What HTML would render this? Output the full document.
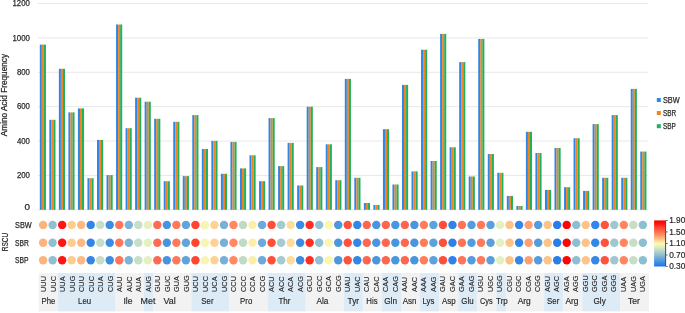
<!DOCTYPE html><html><head><meta charset="utf-8"><style>html,body{margin:0;padding:0;background:#fff;width:685px;height:313px;overflow:hidden}svg{display:block;will-change:transform}</style></head><body>
<svg width="685" height="313" viewBox="0 0 685 313" style="font-family:'Liberation Sans',sans-serif">
<rect x="38" y="209.30" width="610" height="1" fill="#e8e8e8"/>
<rect x="38" y="174.92" width="610" height="1" fill="#e8e8e8"/>
<rect x="38" y="140.53" width="610" height="1" fill="#e8e8e8"/>
<rect x="38" y="106.15" width="610" height="1" fill="#e8e8e8"/>
<rect x="38" y="71.77" width="610" height="1" fill="#e8e8e8"/>
<rect x="38" y="37.38" width="610" height="1" fill="#e8e8e8"/>
<rect x="38" y="3.00" width="610" height="1" fill="#e8e8e8"/>
<text x="29.9" y="209.70" font-size="8.7" fill="#2a2a2a" stroke="#2a2a2a" stroke-width="0.25" text-anchor="end" textLength="5.5" lengthAdjust="spacingAndGlyphs">0</text>
<text x="29.9" y="178.12" font-size="8.7" fill="#2a2a2a" stroke="#2a2a2a" stroke-width="0.25" text-anchor="end" textLength="13.0" lengthAdjust="spacingAndGlyphs">200</text>
<text x="29.9" y="143.73" font-size="8.7" fill="#2a2a2a" stroke="#2a2a2a" stroke-width="0.25" text-anchor="end" textLength="13.0" lengthAdjust="spacingAndGlyphs">400</text>
<text x="29.9" y="109.35" font-size="8.7" fill="#2a2a2a" stroke="#2a2a2a" stroke-width="0.25" text-anchor="end" textLength="13.0" lengthAdjust="spacingAndGlyphs">600</text>
<text x="29.9" y="74.97" font-size="8.7" fill="#2a2a2a" stroke="#2a2a2a" stroke-width="0.25" text-anchor="end" textLength="13.0" lengthAdjust="spacingAndGlyphs">800</text>
<text x="29.9" y="40.58" font-size="8.7" fill="#2a2a2a" stroke="#2a2a2a" stroke-width="0.25" text-anchor="end" textLength="17.4" lengthAdjust="spacingAndGlyphs">1000</text>
<text x="29.9" y="6.20" font-size="8.7" fill="#2a2a2a" stroke="#2a2a2a" stroke-width="0.25" text-anchor="end" textLength="17.4" lengthAdjust="spacingAndGlyphs">1200</text>
<text transform="translate(7.3,95.1) rotate(-90)" font-size="8.3" fill="#2a2a2a" stroke="#2a2a2a" stroke-width="0.25" text-anchor="middle" textLength="82.2" lengthAdjust="spacingAndGlyphs">Amino Acid Frequency</text>
<rect x="39.80" y="44.60" width="2.05" height="165.20" fill="#2b88ea"/>
<rect x="41.85" y="44.60" width="2.05" height="165.20" fill="#f58220"/>
<rect x="43.90" y="44.60" width="2.05" height="165.20" fill="#1fb25e"/>
<rect x="49.33" y="119.80" width="2.05" height="90.00" fill="#2b88ea"/>
<rect x="51.38" y="119.80" width="2.05" height="90.00" fill="#f58220"/>
<rect x="53.43" y="119.80" width="2.05" height="90.00" fill="#1fb25e"/>
<rect x="58.86" y="68.80" width="2.05" height="141.00" fill="#2b88ea"/>
<rect x="60.91" y="68.80" width="2.05" height="141.00" fill="#f58220"/>
<rect x="62.96" y="68.80" width="2.05" height="141.00" fill="#1fb25e"/>
<rect x="68.39" y="112.40" width="2.05" height="97.40" fill="#2b88ea"/>
<rect x="70.44" y="112.40" width="2.05" height="97.40" fill="#f58220"/>
<rect x="72.49" y="112.40" width="2.05" height="97.40" fill="#1fb25e"/>
<rect x="77.92" y="108.40" width="2.05" height="101.40" fill="#2b88ea"/>
<rect x="79.97" y="108.40" width="2.05" height="101.40" fill="#f58220"/>
<rect x="82.02" y="108.40" width="2.05" height="101.40" fill="#1fb25e"/>
<rect x="87.46" y="178.20" width="2.05" height="31.60" fill="#2b88ea"/>
<rect x="89.51" y="178.20" width="2.05" height="31.60" fill="#f58220"/>
<rect x="91.56" y="178.20" width="2.05" height="31.60" fill="#1fb25e"/>
<rect x="96.99" y="139.90" width="2.05" height="69.90" fill="#2b88ea"/>
<rect x="99.04" y="139.90" width="2.05" height="69.90" fill="#f58220"/>
<rect x="101.09" y="139.90" width="2.05" height="69.90" fill="#1fb25e"/>
<rect x="106.52" y="175.10" width="2.05" height="34.70" fill="#2b88ea"/>
<rect x="108.57" y="175.10" width="2.05" height="34.70" fill="#f58220"/>
<rect x="110.62" y="175.10" width="2.05" height="34.70" fill="#1fb25e"/>
<rect x="116.05" y="24.50" width="2.05" height="185.30" fill="#2b88ea"/>
<rect x="118.10" y="24.50" width="2.05" height="185.30" fill="#f58220"/>
<rect x="120.15" y="24.50" width="2.05" height="185.30" fill="#1fb25e"/>
<rect x="125.58" y="128.20" width="2.05" height="81.60" fill="#2b88ea"/>
<rect x="127.63" y="128.20" width="2.05" height="81.60" fill="#f58220"/>
<rect x="129.68" y="128.20" width="2.05" height="81.60" fill="#1fb25e"/>
<rect x="135.11" y="97.70" width="2.05" height="112.10" fill="#2b88ea"/>
<rect x="137.16" y="97.70" width="2.05" height="112.10" fill="#f58220"/>
<rect x="139.21" y="97.70" width="2.05" height="112.10" fill="#1fb25e"/>
<rect x="144.64" y="101.70" width="2.05" height="108.10" fill="#2b88ea"/>
<rect x="146.69" y="101.70" width="2.05" height="108.10" fill="#f58220"/>
<rect x="148.74" y="101.70" width="2.05" height="108.10" fill="#1fb25e"/>
<rect x="154.17" y="118.80" width="2.05" height="91.00" fill="#2b88ea"/>
<rect x="156.22" y="118.80" width="2.05" height="91.00" fill="#f58220"/>
<rect x="158.27" y="118.80" width="2.05" height="91.00" fill="#1fb25e"/>
<rect x="163.71" y="181.20" width="2.05" height="28.60" fill="#2b88ea"/>
<rect x="165.76" y="181.20" width="2.05" height="28.60" fill="#f58220"/>
<rect x="167.81" y="181.20" width="2.05" height="28.60" fill="#1fb25e"/>
<rect x="173.24" y="121.80" width="2.05" height="88.00" fill="#2b88ea"/>
<rect x="175.29" y="121.80" width="2.05" height="88.00" fill="#f58220"/>
<rect x="177.34" y="121.80" width="2.05" height="88.00" fill="#1fb25e"/>
<rect x="182.77" y="176.10" width="2.05" height="33.70" fill="#2b88ea"/>
<rect x="184.82" y="176.10" width="2.05" height="33.70" fill="#f58220"/>
<rect x="186.87" y="176.10" width="2.05" height="33.70" fill="#1fb25e"/>
<rect x="192.30" y="115.10" width="2.05" height="94.70" fill="#2b88ea"/>
<rect x="194.35" y="115.10" width="2.05" height="94.70" fill="#f58220"/>
<rect x="196.40" y="115.10" width="2.05" height="94.70" fill="#1fb25e"/>
<rect x="201.83" y="149.00" width="2.05" height="60.80" fill="#2b88ea"/>
<rect x="203.88" y="149.00" width="2.05" height="60.80" fill="#f58220"/>
<rect x="205.93" y="149.00" width="2.05" height="60.80" fill="#1fb25e"/>
<rect x="211.36" y="140.90" width="2.05" height="68.90" fill="#2b88ea"/>
<rect x="213.41" y="140.90" width="2.05" height="68.90" fill="#f58220"/>
<rect x="215.46" y="140.90" width="2.05" height="68.90" fill="#1fb25e"/>
<rect x="220.89" y="173.80" width="2.05" height="36.00" fill="#2b88ea"/>
<rect x="222.94" y="173.80" width="2.05" height="36.00" fill="#f58220"/>
<rect x="224.99" y="173.80" width="2.05" height="36.00" fill="#1fb25e"/>
<rect x="230.42" y="141.90" width="2.05" height="67.90" fill="#2b88ea"/>
<rect x="232.47" y="141.90" width="2.05" height="67.90" fill="#f58220"/>
<rect x="234.52" y="141.90" width="2.05" height="67.90" fill="#1fb25e"/>
<rect x="239.96" y="168.40" width="2.05" height="41.40" fill="#2b88ea"/>
<rect x="242.01" y="168.40" width="2.05" height="41.40" fill="#f58220"/>
<rect x="244.06" y="168.40" width="2.05" height="41.40" fill="#1fb25e"/>
<rect x="249.49" y="155.30" width="2.05" height="54.50" fill="#2b88ea"/>
<rect x="251.54" y="155.30" width="2.05" height="54.50" fill="#f58220"/>
<rect x="253.59" y="155.30" width="2.05" height="54.50" fill="#1fb25e"/>
<rect x="259.02" y="181.20" width="2.05" height="28.60" fill="#2b88ea"/>
<rect x="261.07" y="181.20" width="2.05" height="28.60" fill="#f58220"/>
<rect x="263.12" y="181.20" width="2.05" height="28.60" fill="#1fb25e"/>
<rect x="268.55" y="118.10" width="2.05" height="91.70" fill="#2b88ea"/>
<rect x="270.60" y="118.10" width="2.05" height="91.70" fill="#f58220"/>
<rect x="272.65" y="118.10" width="2.05" height="91.70" fill="#1fb25e"/>
<rect x="278.08" y="166.10" width="2.05" height="43.70" fill="#2b88ea"/>
<rect x="280.13" y="166.10" width="2.05" height="43.70" fill="#f58220"/>
<rect x="282.18" y="166.10" width="2.05" height="43.70" fill="#1fb25e"/>
<rect x="287.61" y="142.90" width="2.05" height="66.90" fill="#2b88ea"/>
<rect x="289.66" y="142.90" width="2.05" height="66.90" fill="#f58220"/>
<rect x="291.71" y="142.90" width="2.05" height="66.90" fill="#1fb25e"/>
<rect x="297.14" y="185.50" width="2.05" height="24.30" fill="#2b88ea"/>
<rect x="299.19" y="185.50" width="2.05" height="24.30" fill="#f58220"/>
<rect x="301.24" y="185.50" width="2.05" height="24.30" fill="#1fb25e"/>
<rect x="306.68" y="106.70" width="2.05" height="103.10" fill="#2b88ea"/>
<rect x="308.73" y="106.70" width="2.05" height="103.10" fill="#f58220"/>
<rect x="310.78" y="106.70" width="2.05" height="103.10" fill="#1fb25e"/>
<rect x="316.21" y="167.10" width="2.05" height="42.70" fill="#2b88ea"/>
<rect x="318.26" y="167.10" width="2.05" height="42.70" fill="#f58220"/>
<rect x="320.31" y="167.10" width="2.05" height="42.70" fill="#1fb25e"/>
<rect x="325.74" y="144.30" width="2.05" height="65.50" fill="#2b88ea"/>
<rect x="327.79" y="144.30" width="2.05" height="65.50" fill="#f58220"/>
<rect x="329.84" y="144.30" width="2.05" height="65.50" fill="#1fb25e"/>
<rect x="335.27" y="180.20" width="2.05" height="29.60" fill="#2b88ea"/>
<rect x="337.32" y="180.20" width="2.05" height="29.60" fill="#f58220"/>
<rect x="339.37" y="180.20" width="2.05" height="29.60" fill="#1fb25e"/>
<rect x="344.80" y="78.90" width="2.05" height="130.90" fill="#2b88ea"/>
<rect x="346.85" y="78.90" width="2.05" height="130.90" fill="#f58220"/>
<rect x="348.90" y="78.90" width="2.05" height="130.90" fill="#1fb25e"/>
<rect x="354.33" y="177.80" width="2.05" height="32.00" fill="#2b88ea"/>
<rect x="356.38" y="177.80" width="2.05" height="32.00" fill="#f58220"/>
<rect x="358.43" y="177.80" width="2.05" height="32.00" fill="#1fb25e"/>
<rect x="363.86" y="203.00" width="2.05" height="6.80" fill="#2b88ea"/>
<rect x="365.91" y="203.00" width="2.05" height="6.80" fill="#f58220"/>
<rect x="367.96" y="203.00" width="2.05" height="6.80" fill="#1fb25e"/>
<rect x="373.39" y="205.00" width="2.05" height="4.80" fill="#2b88ea"/>
<rect x="375.44" y="205.00" width="2.05" height="4.80" fill="#f58220"/>
<rect x="377.49" y="205.00" width="2.05" height="4.80" fill="#1fb25e"/>
<rect x="382.93" y="129.20" width="2.05" height="80.60" fill="#2b88ea"/>
<rect x="384.98" y="129.20" width="2.05" height="80.60" fill="#f58220"/>
<rect x="387.03" y="129.20" width="2.05" height="80.60" fill="#1fb25e"/>
<rect x="392.46" y="184.50" width="2.05" height="25.30" fill="#2b88ea"/>
<rect x="394.51" y="184.50" width="2.05" height="25.30" fill="#f58220"/>
<rect x="396.56" y="184.50" width="2.05" height="25.30" fill="#1fb25e"/>
<rect x="401.99" y="84.90" width="2.05" height="124.90" fill="#2b88ea"/>
<rect x="404.04" y="84.90" width="2.05" height="124.90" fill="#f58220"/>
<rect x="406.09" y="84.90" width="2.05" height="124.90" fill="#1fb25e"/>
<rect x="411.52" y="171.40" width="2.05" height="38.40" fill="#2b88ea"/>
<rect x="413.57" y="171.40" width="2.05" height="38.40" fill="#f58220"/>
<rect x="415.62" y="171.40" width="2.05" height="38.40" fill="#1fb25e"/>
<rect x="421.05" y="49.70" width="2.05" height="160.10" fill="#2b88ea"/>
<rect x="423.10" y="49.70" width="2.05" height="160.10" fill="#f58220"/>
<rect x="425.15" y="49.70" width="2.05" height="160.10" fill="#1fb25e"/>
<rect x="430.58" y="161.00" width="2.05" height="48.80" fill="#2b88ea"/>
<rect x="432.63" y="161.00" width="2.05" height="48.80" fill="#f58220"/>
<rect x="434.68" y="161.00" width="2.05" height="48.80" fill="#1fb25e"/>
<rect x="440.11" y="33.90" width="2.05" height="175.90" fill="#2b88ea"/>
<rect x="442.16" y="33.90" width="2.05" height="175.90" fill="#f58220"/>
<rect x="444.21" y="33.90" width="2.05" height="175.90" fill="#1fb25e"/>
<rect x="449.64" y="147.30" width="2.05" height="62.50" fill="#2b88ea"/>
<rect x="451.69" y="147.30" width="2.05" height="62.50" fill="#f58220"/>
<rect x="453.74" y="147.30" width="2.05" height="62.50" fill="#1fb25e"/>
<rect x="459.18" y="62.10" width="2.05" height="147.70" fill="#2b88ea"/>
<rect x="461.23" y="62.10" width="2.05" height="147.70" fill="#f58220"/>
<rect x="463.28" y="62.10" width="2.05" height="147.70" fill="#1fb25e"/>
<rect x="468.71" y="176.50" width="2.05" height="33.30" fill="#2b88ea"/>
<rect x="470.76" y="176.50" width="2.05" height="33.30" fill="#f58220"/>
<rect x="472.81" y="176.50" width="2.05" height="33.30" fill="#1fb25e"/>
<rect x="478.24" y="38.90" width="2.05" height="170.90" fill="#2b88ea"/>
<rect x="480.29" y="38.90" width="2.05" height="170.90" fill="#f58220"/>
<rect x="482.34" y="38.90" width="2.05" height="170.90" fill="#1fb25e"/>
<rect x="487.77" y="154.00" width="2.05" height="55.80" fill="#2b88ea"/>
<rect x="489.82" y="154.00" width="2.05" height="55.80" fill="#f58220"/>
<rect x="491.87" y="154.00" width="2.05" height="55.80" fill="#1fb25e"/>
<rect x="497.30" y="172.80" width="2.05" height="37.00" fill="#2b88ea"/>
<rect x="499.35" y="172.80" width="2.05" height="37.00" fill="#f58220"/>
<rect x="501.40" y="172.80" width="2.05" height="37.00" fill="#1fb25e"/>
<rect x="506.83" y="195.90" width="2.05" height="13.90" fill="#2b88ea"/>
<rect x="508.88" y="195.90" width="2.05" height="13.90" fill="#f58220"/>
<rect x="510.93" y="195.90" width="2.05" height="13.90" fill="#1fb25e"/>
<rect x="516.36" y="206.00" width="2.05" height="3.80" fill="#2b88ea"/>
<rect x="518.41" y="206.00" width="2.05" height="3.80" fill="#f58220"/>
<rect x="520.46" y="206.00" width="2.05" height="3.80" fill="#1fb25e"/>
<rect x="525.89" y="131.80" width="2.05" height="78.00" fill="#2b88ea"/>
<rect x="527.94" y="131.80" width="2.05" height="78.00" fill="#f58220"/>
<rect x="529.99" y="131.80" width="2.05" height="78.00" fill="#1fb25e"/>
<rect x="535.43" y="153.00" width="2.05" height="56.80" fill="#2b88ea"/>
<rect x="537.48" y="153.00" width="2.05" height="56.80" fill="#f58220"/>
<rect x="539.53" y="153.00" width="2.05" height="56.80" fill="#1fb25e"/>
<rect x="544.96" y="189.90" width="2.05" height="19.90" fill="#2b88ea"/>
<rect x="547.01" y="189.90" width="2.05" height="19.90" fill="#f58220"/>
<rect x="549.06" y="189.90" width="2.05" height="19.90" fill="#1fb25e"/>
<rect x="554.49" y="148.00" width="2.05" height="61.80" fill="#2b88ea"/>
<rect x="556.54" y="148.00" width="2.05" height="61.80" fill="#f58220"/>
<rect x="558.59" y="148.00" width="2.05" height="61.80" fill="#1fb25e"/>
<rect x="564.02" y="187.20" width="2.05" height="22.60" fill="#2b88ea"/>
<rect x="566.07" y="187.20" width="2.05" height="22.60" fill="#f58220"/>
<rect x="568.12" y="187.20" width="2.05" height="22.60" fill="#1fb25e"/>
<rect x="573.55" y="138.20" width="2.05" height="71.60" fill="#2b88ea"/>
<rect x="575.60" y="138.20" width="2.05" height="71.60" fill="#f58220"/>
<rect x="577.65" y="138.20" width="2.05" height="71.60" fill="#1fb25e"/>
<rect x="583.08" y="190.90" width="2.05" height="18.90" fill="#2b88ea"/>
<rect x="585.13" y="190.90" width="2.05" height="18.90" fill="#f58220"/>
<rect x="587.18" y="190.90" width="2.05" height="18.90" fill="#1fb25e"/>
<rect x="592.61" y="124.10" width="2.05" height="85.70" fill="#2b88ea"/>
<rect x="594.66" y="124.10" width="2.05" height="85.70" fill="#f58220"/>
<rect x="596.71" y="124.10" width="2.05" height="85.70" fill="#1fb25e"/>
<rect x="602.14" y="177.80" width="2.05" height="32.00" fill="#2b88ea"/>
<rect x="604.19" y="177.80" width="2.05" height="32.00" fill="#f58220"/>
<rect x="606.24" y="177.80" width="2.05" height="32.00" fill="#1fb25e"/>
<rect x="611.68" y="115.10" width="2.05" height="94.70" fill="#2b88ea"/>
<rect x="613.73" y="115.10" width="2.05" height="94.70" fill="#f58220"/>
<rect x="615.78" y="115.10" width="2.05" height="94.70" fill="#1fb25e"/>
<rect x="621.21" y="177.80" width="2.05" height="32.00" fill="#2b88ea"/>
<rect x="623.26" y="177.80" width="2.05" height="32.00" fill="#f58220"/>
<rect x="625.31" y="177.80" width="2.05" height="32.00" fill="#1fb25e"/>
<rect x="630.74" y="88.90" width="2.05" height="120.90" fill="#2b88ea"/>
<rect x="632.79" y="88.90" width="2.05" height="120.90" fill="#f58220"/>
<rect x="634.84" y="88.90" width="2.05" height="120.90" fill="#1fb25e"/>
<rect x="640.27" y="151.60" width="2.05" height="58.20" fill="#2b88ea"/>
<rect x="642.32" y="151.60" width="2.05" height="58.20" fill="#f58220"/>
<rect x="644.37" y="151.60" width="2.05" height="58.20" fill="#1fb25e"/>
<rect x="656.8" y="98.0" width="4" height="4" fill="#2b88ea"/>
<text x="662.9" y="103.00" font-size="8.4" fill="#2a2a2a" stroke="#2a2a2a" stroke-width="0.25" textLength="16.7" lengthAdjust="spacingAndGlyphs">SBW</text>
<rect x="656.8" y="111.0" width="4" height="4" fill="#f58220"/>
<text x="662.9" y="116.00" font-size="8.4" fill="#2a2a2a" stroke="#2a2a2a" stroke-width="0.25" textLength="13.2" lengthAdjust="spacingAndGlyphs">SBR</text>
<rect x="656.8" y="124.2" width="4" height="4" fill="#1fb25e"/>
<text x="662.9" y="129.20" font-size="8.4" fill="#2a2a2a" stroke="#2a2a2a" stroke-width="0.25" textLength="12.9" lengthAdjust="spacingAndGlyphs">SBP</text>
<text x="15.05" y="227.90" font-size="8.4" fill="#2a2a2a" stroke="#2a2a2a" stroke-width="0.25" textLength="16.6" lengthAdjust="spacingAndGlyphs">SBW</text>
<circle cx="43.10" cy="224.90" r="4.22" fill="#fdb37d"/>
<circle cx="52.62" cy="224.90" r="4.22" fill="#90bfd2"/>
<circle cx="62.14" cy="224.90" r="4.22" fill="#ff1511"/>
<circle cx="71.66" cy="224.90" r="4.22" fill="#fdcc8f"/>
<circle cx="81.18" cy="224.90" r="4.22" fill="#fdb981"/>
<circle cx="90.70" cy="224.90" r="4.22" fill="#3386e8"/>
<circle cx="100.22" cy="224.90" r="4.22" fill="#c5dec5"/>
<circle cx="109.74" cy="224.90" r="4.22" fill="#3d8de4"/>
<circle cx="119.26" cy="224.90" r="4.22" fill="#ff7758"/>
<circle cx="128.78" cy="224.90" r="4.22" fill="#7db4d6"/>
<circle cx="138.30" cy="224.90" r="4.22" fill="#c7dfc5"/>
<circle cx="147.82" cy="224.90" r="4.22" fill="#e5f0c0"/>
<circle cx="157.34" cy="224.90" r="4.22" fill="#ff6a52"/>
<circle cx="166.86" cy="224.90" r="4.22" fill="#4694e1"/>
<circle cx="176.38" cy="224.90" r="4.22" fill="#ff7a59"/>
<circle cx="185.90" cy="224.90" r="4.22" fill="#61a4db"/>
<circle cx="195.42" cy="224.90" r="4.22" fill="#ff4530"/>
<circle cx="204.94" cy="224.90" r="4.22" fill="#f6f5b3"/>
<circle cx="214.46" cy="224.90" r="4.22" fill="#fdd293"/>
<circle cx="223.98" cy="224.90" r="4.22" fill="#78b1d7"/>
<circle cx="233.50" cy="224.90" r="4.22" fill="#ff8960"/>
<circle cx="243.02" cy="224.90" r="4.22" fill="#bfdbc6"/>
<circle cx="252.54" cy="224.90" r="4.22" fill="#feeda4"/>
<circle cx="262.06" cy="224.90" r="4.22" fill="#6daad9"/>
<circle cx="271.58" cy="224.90" r="4.22" fill="#ff4f39"/>
<circle cx="281.10" cy="224.90" r="4.22" fill="#a4cbcd"/>
<circle cx="290.62" cy="224.90" r="4.22" fill="#fedc99"/>
<circle cx="300.14" cy="224.90" r="4.22" fill="#3b8ce5"/>
<circle cx="309.66" cy="224.90" r="4.22" fill="#ff3022"/>
<circle cx="319.18" cy="224.90" r="4.22" fill="#91c0d2"/>
<circle cx="328.70" cy="224.90" r="4.22" fill="#fcf7ae"/>
<circle cx="338.22" cy="224.90" r="4.22" fill="#4c97df"/>
<circle cx="347.74" cy="224.90" r="4.22" fill="#ff513c"/>
<circle cx="357.26" cy="224.90" r="4.22" fill="#3285e9"/>
<circle cx="366.78" cy="224.90" r="4.22" fill="#ff6650"/>
<circle cx="376.30" cy="224.90" r="4.22" fill="#4895e0"/>
<circle cx="385.82" cy="224.90" r="4.22" fill="#ff6650"/>
<circle cx="395.34" cy="224.90" r="4.22" fill="#4895e0"/>
<circle cx="404.86" cy="224.90" r="4.22" fill="#ff6650"/>
<circle cx="414.38" cy="224.90" r="4.22" fill="#4895e0"/>
<circle cx="423.90" cy="224.90" r="4.22" fill="#ff7d5a"/>
<circle cx="433.42" cy="224.90" r="4.22" fill="#5ea2dc"/>
<circle cx="442.94" cy="224.90" r="4.22" fill="#ff4e39"/>
<circle cx="452.46" cy="224.90" r="4.22" fill="#2e83ea"/>
<circle cx="461.98" cy="224.90" r="4.22" fill="#ff7356"/>
<circle cx="471.50" cy="224.90" r="4.22" fill="#559cde"/>
<circle cx="481.02" cy="224.90" r="4.22" fill="#ff7a59"/>
<circle cx="490.54" cy="224.90" r="4.22" fill="#5ba0dc"/>
<circle cx="500.06" cy="224.90" r="4.22" fill="#e5f0c0"/>
<circle cx="509.58" cy="224.90" r="4.22" fill="#fdc489"/>
<circle cx="519.10" cy="224.90" r="4.22" fill="#3486e8"/>
<circle cx="528.62" cy="224.90" r="4.22" fill="#fe9f6f"/>
<circle cx="538.14" cy="224.90" r="4.22" fill="#559cde"/>
<circle cx="547.66" cy="224.90" r="4.22" fill="#fdc489"/>
<circle cx="557.18" cy="224.90" r="4.22" fill="#277ded"/>
<circle cx="566.70" cy="224.90" r="4.22" fill="#ff0505"/>
<circle cx="576.22" cy="224.90" r="4.22" fill="#8ebed2"/>
<circle cx="585.74" cy="224.90" r="4.22" fill="#fdc489"/>
<circle cx="595.26" cy="224.90" r="4.22" fill="#3486e8"/>
<circle cx="604.78" cy="224.90" r="4.22" fill="#ff533e"/>
<circle cx="614.30" cy="224.90" r="4.22" fill="#9ec7cf"/>
<circle cx="623.82" cy="224.90" r="4.22" fill="#ff875f"/>
<circle cx="633.34" cy="224.90" r="4.22" fill="#c5dec5"/>
<circle cx="642.86" cy="224.90" r="4.22" fill="#8ebed2"/>
<text x="15.05" y="245.80" font-size="8.4" fill="#2a2a2a" stroke="#2a2a2a" stroke-width="0.25" textLength="13.8" lengthAdjust="spacingAndGlyphs">SBR</text>
<circle cx="43.10" cy="242.80" r="4.22" fill="#fdb37d"/>
<circle cx="52.62" cy="242.80" r="4.22" fill="#90bfd2"/>
<circle cx="62.14" cy="242.80" r="4.22" fill="#ff1511"/>
<circle cx="71.66" cy="242.80" r="4.22" fill="#fdcc8f"/>
<circle cx="81.18" cy="242.80" r="4.22" fill="#fdb981"/>
<circle cx="90.70" cy="242.80" r="4.22" fill="#3386e8"/>
<circle cx="100.22" cy="242.80" r="4.22" fill="#c5dec5"/>
<circle cx="109.74" cy="242.80" r="4.22" fill="#3d8de4"/>
<circle cx="119.26" cy="242.80" r="4.22" fill="#ff7758"/>
<circle cx="128.78" cy="242.80" r="4.22" fill="#7db4d6"/>
<circle cx="138.30" cy="242.80" r="4.22" fill="#c7dfc5"/>
<circle cx="147.82" cy="242.80" r="4.22" fill="#e5f0c0"/>
<circle cx="157.34" cy="242.80" r="4.22" fill="#ff6a52"/>
<circle cx="166.86" cy="242.80" r="4.22" fill="#4694e1"/>
<circle cx="176.38" cy="242.80" r="4.22" fill="#ff7a59"/>
<circle cx="185.90" cy="242.80" r="4.22" fill="#61a4db"/>
<circle cx="195.42" cy="242.80" r="4.22" fill="#ff4530"/>
<circle cx="204.94" cy="242.80" r="4.22" fill="#f6f5b3"/>
<circle cx="214.46" cy="242.80" r="4.22" fill="#fdd293"/>
<circle cx="223.98" cy="242.80" r="4.22" fill="#78b1d7"/>
<circle cx="233.50" cy="242.80" r="4.22" fill="#ff8960"/>
<circle cx="243.02" cy="242.80" r="4.22" fill="#bfdbc6"/>
<circle cx="252.54" cy="242.80" r="4.22" fill="#feeda4"/>
<circle cx="262.06" cy="242.80" r="4.22" fill="#6daad9"/>
<circle cx="271.58" cy="242.80" r="4.22" fill="#ff4f39"/>
<circle cx="281.10" cy="242.80" r="4.22" fill="#a4cbcd"/>
<circle cx="290.62" cy="242.80" r="4.22" fill="#fedc99"/>
<circle cx="300.14" cy="242.80" r="4.22" fill="#3b8ce5"/>
<circle cx="309.66" cy="242.80" r="4.22" fill="#ff3022"/>
<circle cx="319.18" cy="242.80" r="4.22" fill="#91c0d2"/>
<circle cx="328.70" cy="242.80" r="4.22" fill="#fcf7ae"/>
<circle cx="338.22" cy="242.80" r="4.22" fill="#4c97df"/>
<circle cx="347.74" cy="242.80" r="4.22" fill="#ff513c"/>
<circle cx="357.26" cy="242.80" r="4.22" fill="#3285e9"/>
<circle cx="366.78" cy="242.80" r="4.22" fill="#ff6650"/>
<circle cx="376.30" cy="242.80" r="4.22" fill="#4895e0"/>
<circle cx="385.82" cy="242.80" r="4.22" fill="#ff6650"/>
<circle cx="395.34" cy="242.80" r="4.22" fill="#4895e0"/>
<circle cx="404.86" cy="242.80" r="4.22" fill="#ff6650"/>
<circle cx="414.38" cy="242.80" r="4.22" fill="#4895e0"/>
<circle cx="423.90" cy="242.80" r="4.22" fill="#ff7d5a"/>
<circle cx="433.42" cy="242.80" r="4.22" fill="#5ea2dc"/>
<circle cx="442.94" cy="242.80" r="4.22" fill="#ff4e39"/>
<circle cx="452.46" cy="242.80" r="4.22" fill="#2e83ea"/>
<circle cx="461.98" cy="242.80" r="4.22" fill="#ff7356"/>
<circle cx="471.50" cy="242.80" r="4.22" fill="#559cde"/>
<circle cx="481.02" cy="242.80" r="4.22" fill="#ff7a59"/>
<circle cx="490.54" cy="242.80" r="4.22" fill="#5ba0dc"/>
<circle cx="500.06" cy="242.80" r="4.22" fill="#e5f0c0"/>
<circle cx="509.58" cy="242.80" r="4.22" fill="#fdc489"/>
<circle cx="519.10" cy="242.80" r="4.22" fill="#3486e8"/>
<circle cx="528.62" cy="242.80" r="4.22" fill="#fe9f6f"/>
<circle cx="538.14" cy="242.80" r="4.22" fill="#559cde"/>
<circle cx="547.66" cy="242.80" r="4.22" fill="#fdc489"/>
<circle cx="557.18" cy="242.80" r="4.22" fill="#277ded"/>
<circle cx="566.70" cy="242.80" r="4.22" fill="#ff0505"/>
<circle cx="576.22" cy="242.80" r="4.22" fill="#8ebed2"/>
<circle cx="585.74" cy="242.80" r="4.22" fill="#fdc489"/>
<circle cx="595.26" cy="242.80" r="4.22" fill="#3486e8"/>
<circle cx="604.78" cy="242.80" r="4.22" fill="#ff533e"/>
<circle cx="614.30" cy="242.80" r="4.22" fill="#9ec7cf"/>
<circle cx="623.82" cy="242.80" r="4.22" fill="#ff875f"/>
<circle cx="633.34" cy="242.80" r="4.22" fill="#c5dec5"/>
<circle cx="642.86" cy="242.80" r="4.22" fill="#8ebed2"/>
<text x="15.05" y="263.30" font-size="8.4" fill="#2a2a2a" stroke="#2a2a2a" stroke-width="0.25" textLength="13.5" lengthAdjust="spacingAndGlyphs">SBP</text>
<circle cx="43.10" cy="260.30" r="4.22" fill="#fdb37d"/>
<circle cx="52.62" cy="260.30" r="4.22" fill="#90bfd2"/>
<circle cx="62.14" cy="260.30" r="4.22" fill="#ff1511"/>
<circle cx="71.66" cy="260.30" r="4.22" fill="#fdcc8f"/>
<circle cx="81.18" cy="260.30" r="4.22" fill="#fdb981"/>
<circle cx="90.70" cy="260.30" r="4.22" fill="#3386e8"/>
<circle cx="100.22" cy="260.30" r="4.22" fill="#c5dec5"/>
<circle cx="109.74" cy="260.30" r="4.22" fill="#3d8de4"/>
<circle cx="119.26" cy="260.30" r="4.22" fill="#ff7758"/>
<circle cx="128.78" cy="260.30" r="4.22" fill="#7db4d6"/>
<circle cx="138.30" cy="260.30" r="4.22" fill="#c7dfc5"/>
<circle cx="147.82" cy="260.30" r="4.22" fill="#e5f0c0"/>
<circle cx="157.34" cy="260.30" r="4.22" fill="#ff6a52"/>
<circle cx="166.86" cy="260.30" r="4.22" fill="#4694e1"/>
<circle cx="176.38" cy="260.30" r="4.22" fill="#ff7a59"/>
<circle cx="185.90" cy="260.30" r="4.22" fill="#61a4db"/>
<circle cx="195.42" cy="260.30" r="4.22" fill="#ff4530"/>
<circle cx="204.94" cy="260.30" r="4.22" fill="#f6f5b3"/>
<circle cx="214.46" cy="260.30" r="4.22" fill="#fdd293"/>
<circle cx="223.98" cy="260.30" r="4.22" fill="#78b1d7"/>
<circle cx="233.50" cy="260.30" r="4.22" fill="#ff8960"/>
<circle cx="243.02" cy="260.30" r="4.22" fill="#bfdbc6"/>
<circle cx="252.54" cy="260.30" r="4.22" fill="#feeda4"/>
<circle cx="262.06" cy="260.30" r="4.22" fill="#6daad9"/>
<circle cx="271.58" cy="260.30" r="4.22" fill="#ff4f39"/>
<circle cx="281.10" cy="260.30" r="4.22" fill="#a4cbcd"/>
<circle cx="290.62" cy="260.30" r="4.22" fill="#fedc99"/>
<circle cx="300.14" cy="260.30" r="4.22" fill="#3b8ce5"/>
<circle cx="309.66" cy="260.30" r="4.22" fill="#ff3022"/>
<circle cx="319.18" cy="260.30" r="4.22" fill="#91c0d2"/>
<circle cx="328.70" cy="260.30" r="4.22" fill="#fcf7ae"/>
<circle cx="338.22" cy="260.30" r="4.22" fill="#4c97df"/>
<circle cx="347.74" cy="260.30" r="4.22" fill="#ff513c"/>
<circle cx="357.26" cy="260.30" r="4.22" fill="#3285e9"/>
<circle cx="366.78" cy="260.30" r="4.22" fill="#ff6650"/>
<circle cx="376.30" cy="260.30" r="4.22" fill="#4895e0"/>
<circle cx="385.82" cy="260.30" r="4.22" fill="#ff6650"/>
<circle cx="395.34" cy="260.30" r="4.22" fill="#4895e0"/>
<circle cx="404.86" cy="260.30" r="4.22" fill="#ff6650"/>
<circle cx="414.38" cy="260.30" r="4.22" fill="#4895e0"/>
<circle cx="423.90" cy="260.30" r="4.22" fill="#ff7d5a"/>
<circle cx="433.42" cy="260.30" r="4.22" fill="#5ea2dc"/>
<circle cx="442.94" cy="260.30" r="4.22" fill="#ff4e39"/>
<circle cx="452.46" cy="260.30" r="4.22" fill="#2e83ea"/>
<circle cx="461.98" cy="260.30" r="4.22" fill="#ff7356"/>
<circle cx="471.50" cy="260.30" r="4.22" fill="#559cde"/>
<circle cx="481.02" cy="260.30" r="4.22" fill="#ff7a59"/>
<circle cx="490.54" cy="260.30" r="4.22" fill="#5ba0dc"/>
<circle cx="500.06" cy="260.30" r="4.22" fill="#e5f0c0"/>
<circle cx="509.58" cy="260.30" r="4.22" fill="#fdc489"/>
<circle cx="519.10" cy="260.30" r="4.22" fill="#3486e8"/>
<circle cx="528.62" cy="260.30" r="4.22" fill="#fe9f6f"/>
<circle cx="538.14" cy="260.30" r="4.22" fill="#559cde"/>
<circle cx="547.66" cy="260.30" r="4.22" fill="#fdc489"/>
<circle cx="557.18" cy="260.30" r="4.22" fill="#277ded"/>
<circle cx="566.70" cy="260.30" r="4.22" fill="#ff0505"/>
<circle cx="576.22" cy="260.30" r="4.22" fill="#8ebed2"/>
<circle cx="585.74" cy="260.30" r="4.22" fill="#fdc489"/>
<circle cx="595.26" cy="260.30" r="4.22" fill="#3486e8"/>
<circle cx="604.78" cy="260.30" r="4.22" fill="#ff533e"/>
<circle cx="614.30" cy="260.30" r="4.22" fill="#9ec7cf"/>
<circle cx="623.82" cy="260.30" r="4.22" fill="#ff875f"/>
<circle cx="633.34" cy="260.30" r="4.22" fill="#c5dec5"/>
<circle cx="642.86" cy="260.30" r="4.22" fill="#8ebed2"/>
<text transform="translate(7.9,242) rotate(-90)" font-size="9" fill="#2a2a2a" stroke="#2a2a2a" stroke-width="0.25" text-anchor="middle" textLength="18.6" lengthAdjust="spacingAndGlyphs">RSCU</text>
<defs><linearGradient id="cb" x1="0" y1="1" x2="0" y2="0">
<stop offset="0.0000" stop-color="rgb(26,116,242)"/>
<stop offset="0.1125" stop-color="rgb(72,149,224)"/>
<stop offset="0.2531" stop-color="rgb(144,191,210)"/>
<stop offset="0.3625" stop-color="rgb(197,222,197)"/>
<stop offset="0.4375" stop-color="rgb(229,240,192)"/>
<stop offset="0.5000" stop-color="rgb(255,248,172)"/>
<stop offset="0.5812" stop-color="rgb(253,203,142)"/>
<stop offset="0.6187" stop-color="rgb(253,181,126)"/>
<stop offset="0.6937" stop-color="rgb(255,138,96)"/>
<stop offset="0.7625" stop-color="rgb(255,102,80)"/>
<stop offset="0.8500" stop-color="rgb(255,69,48)"/>
<stop offset="0.9250" stop-color="rgb(255,20,16)"/>
<stop offset="0.9688" stop-color="rgb(255,5,5)"/>
<stop offset="1.0000" stop-color="rgb(255,0,0)"/>
</linearGradient></defs>
<rect x="654.1" y="220.4" width="11.2" height="46.1" fill="url(#cb)"/>
<rect x="665.2" y="220.4" width="0.9" height="46.1" fill="#333"/>
<rect x="666" y="220.00" width="1.8" height="0.8" fill="#555"/>
<text x="669.2" y="223.35" font-size="8.3" fill="#2a2a2a" stroke="#2a2a2a" stroke-width="0.2">1.90</text>
<rect x="666" y="231.53" width="1.8" height="0.8" fill="#555"/>
<text x="669.2" y="234.88" font-size="8.3" fill="#2a2a2a" stroke="#2a2a2a" stroke-width="0.2">1.50</text>
<rect x="666" y="243.05" width="1.8" height="0.8" fill="#555"/>
<text x="669.2" y="246.40" font-size="8.3" fill="#2a2a2a" stroke="#2a2a2a" stroke-width="0.2">1.10</text>
<rect x="666" y="254.58" width="1.8" height="0.8" fill="#555"/>
<text x="669.2" y="257.93" font-size="8.3" fill="#2a2a2a" stroke="#2a2a2a" stroke-width="0.2">0.70</text>
<rect x="666" y="266.10" width="1.8" height="0.8" fill="#555"/>
<text x="669.2" y="269.45" font-size="8.3" fill="#2a2a2a" stroke="#2a2a2a" stroke-width="0.2">0.30</text>
<rect x="38.70" y="273.00" width="19.07" height="38.40" fill="#f2f2f2"/>
<rect x="57.77" y="273.00" width="57.22" height="38.40" fill="#ddebf7"/>
<rect x="114.99" y="273.00" width="28.61" height="38.40" fill="#f2f2f2"/>
<rect x="143.60" y="273.00" width="9.54" height="38.40" fill="#ddebf7"/>
<rect x="153.13" y="273.00" width="38.14" height="38.40" fill="#f2f2f2"/>
<rect x="191.27" y="273.00" width="38.14" height="38.40" fill="#ddebf7"/>
<rect x="229.42" y="273.00" width="38.14" height="38.40" fill="#f2f2f2"/>
<rect x="267.56" y="273.00" width="38.14" height="38.40" fill="#ddebf7"/>
<rect x="305.71" y="273.00" width="38.14" height="38.40" fill="#f2f2f2"/>
<rect x="343.85" y="273.00" width="19.07" height="38.40" fill="#ddebf7"/>
<rect x="362.92" y="273.00" width="19.07" height="38.40" fill="#f2f2f2"/>
<rect x="381.99" y="273.00" width="19.07" height="38.40" fill="#ddebf7"/>
<rect x="401.07" y="273.00" width="19.07" height="38.40" fill="#f2f2f2"/>
<rect x="420.14" y="273.00" width="19.07" height="38.40" fill="#ddebf7"/>
<rect x="439.21" y="273.00" width="19.07" height="38.40" fill="#f2f2f2"/>
<rect x="458.28" y="273.00" width="19.07" height="38.40" fill="#ddebf7"/>
<rect x="477.35" y="273.00" width="19.07" height="38.40" fill="#f2f2f2"/>
<rect x="496.42" y="273.00" width="9.54" height="38.40" fill="#ddebf7"/>
<rect x="505.96" y="273.00" width="38.14" height="38.40" fill="#f2f2f2"/>
<rect x="544.10" y="273.00" width="19.07" height="38.40" fill="#ddebf7"/>
<rect x="563.18" y="273.00" width="19.07" height="38.40" fill="#f2f2f2"/>
<rect x="582.25" y="273.00" width="38.14" height="38.40" fill="#ddebf7"/>
<rect x="620.39" y="273.00" width="28.61" height="38.40" fill="#f2f2f2"/>
<text x="48.50" y="304.4" font-size="8.6" fill="#262626" stroke="#262626" stroke-width="0.15" text-anchor="middle" textLength="13.90" lengthAdjust="spacingAndGlyphs">Phe</text>
<text x="84.60" y="304.4" font-size="8.6" fill="#262626" stroke="#262626" stroke-width="0.15" text-anchor="middle" textLength="13.00" lengthAdjust="spacingAndGlyphs">Leu</text>
<text x="127.90" y="304.4" font-size="8.6" fill="#262626" stroke="#262626" stroke-width="0.15" text-anchor="middle" textLength="9.00" lengthAdjust="spacingAndGlyphs">Ile</text>
<text x="148.00" y="304.4" font-size="8.6" fill="#262626" stroke="#262626" stroke-width="0.15" text-anchor="middle" textLength="14.80" lengthAdjust="spacingAndGlyphs">Met</text>
<text x="169.70" y="304.4" font-size="8.6" fill="#262626" stroke="#262626" stroke-width="0.15" text-anchor="middle" textLength="12.20" lengthAdjust="spacingAndGlyphs">Val</text>
<text x="207.40" y="304.4" font-size="8.6" fill="#262626" stroke="#262626" stroke-width="0.15" text-anchor="middle" textLength="12.20" lengthAdjust="spacingAndGlyphs">Ser</text>
<text x="246.20" y="304.4" font-size="8.6" fill="#262626" stroke="#262626" stroke-width="0.15" text-anchor="middle" textLength="12.20" lengthAdjust="spacingAndGlyphs">Pro</text>
<text x="284.50" y="304.4" font-size="8.6" fill="#262626" stroke="#262626" stroke-width="0.15" text-anchor="middle" textLength="12.10" lengthAdjust="spacingAndGlyphs">Thr</text>
<text x="322.50" y="304.4" font-size="8.6" fill="#262626" stroke="#262626" stroke-width="0.15" text-anchor="middle" textLength="11.90" lengthAdjust="spacingAndGlyphs">Ala</text>
<text x="353.30" y="304.4" font-size="8.6" fill="#262626" stroke="#262626" stroke-width="0.15" text-anchor="middle" textLength="11.60" lengthAdjust="spacingAndGlyphs">Tyr</text>
<text x="371.90" y="304.4" font-size="8.6" fill="#262626" stroke="#262626" stroke-width="0.15" text-anchor="middle" textLength="11.30" lengthAdjust="spacingAndGlyphs">His</text>
<text x="390.60" y="304.4" font-size="8.6" fill="#262626" stroke="#262626" stroke-width="0.15" text-anchor="middle" textLength="12.80" lengthAdjust="spacingAndGlyphs">Gln</text>
<text x="409.60" y="304.4" font-size="8.6" fill="#262626" stroke="#262626" stroke-width="0.15" text-anchor="middle" textLength="13.80" lengthAdjust="spacingAndGlyphs">Asn</text>
<text x="428.40" y="304.4" font-size="8.6" fill="#262626" stroke="#262626" stroke-width="0.15" text-anchor="middle" textLength="11.80" lengthAdjust="spacingAndGlyphs">Lys</text>
<text x="448.80" y="304.4" font-size="8.6" fill="#262626" stroke="#262626" stroke-width="0.15" text-anchor="middle" textLength="13.70" lengthAdjust="spacingAndGlyphs">Asp</text>
<text x="467.40" y="304.4" font-size="8.6" fill="#262626" stroke="#262626" stroke-width="0.15" text-anchor="middle" textLength="12.30" lengthAdjust="spacingAndGlyphs">Glu</text>
<text x="486.40" y="304.4" font-size="8.6" fill="#262626" stroke="#262626" stroke-width="0.15" text-anchor="middle" textLength="12.70" lengthAdjust="spacingAndGlyphs">Cys</text>
<text x="501.90" y="304.4" font-size="8.6" fill="#262626" stroke="#262626" stroke-width="0.15" text-anchor="middle" textLength="11.70" lengthAdjust="spacingAndGlyphs">Trp</text>
<text x="524.20" y="304.4" font-size="8.6" fill="#262626" stroke="#262626" stroke-width="0.15" text-anchor="middle" textLength="13.10" lengthAdjust="spacingAndGlyphs">Arg</text>
<text x="553.20" y="304.4" font-size="8.6" fill="#262626" stroke="#262626" stroke-width="0.15" text-anchor="middle" textLength="12.20" lengthAdjust="spacingAndGlyphs">Ser</text>
<text x="572.00" y="304.4" font-size="8.6" fill="#262626" stroke="#262626" stroke-width="0.15" text-anchor="middle" textLength="13.00" lengthAdjust="spacingAndGlyphs">Arg</text>
<text x="599.60" y="304.4" font-size="8.6" fill="#262626" stroke="#262626" stroke-width="0.15" text-anchor="middle" textLength="12.20" lengthAdjust="spacingAndGlyphs">Gly</text>
<text x="633.90" y="304.4" font-size="8.6" fill="#262626" stroke="#262626" stroke-width="0.15" text-anchor="middle" textLength="12.00" lengthAdjust="spacingAndGlyphs">Ter</text>
<text transform="translate(46.00,291.9) rotate(-90)" font-size="7.3" fill="#262626" stroke="#262626" stroke-width="0.12">UUU</text>
<text transform="translate(55.51,291.9) rotate(-90)" font-size="7.3" fill="#262626" stroke="#262626" stroke-width="0.12">UUC</text>
<text transform="translate(65.02,291.9) rotate(-90)" font-size="7.3" fill="#262626" stroke="#262626" stroke-width="0.12">UUA</text>
<text transform="translate(74.52,291.9) rotate(-90)" font-size="7.3" fill="#262626" stroke="#262626" stroke-width="0.12">UUG</text>
<text transform="translate(84.03,291.9) rotate(-90)" font-size="7.3" fill="#262626" stroke="#262626" stroke-width="0.12">CUU</text>
<text transform="translate(93.54,291.9) rotate(-90)" font-size="7.3" fill="#262626" stroke="#262626" stroke-width="0.12">CUC</text>
<text transform="translate(103.05,291.9) rotate(-90)" font-size="7.3" fill="#262626" stroke="#262626" stroke-width="0.12">CUA</text>
<text transform="translate(112.56,291.9) rotate(-90)" font-size="7.3" fill="#262626" stroke="#262626" stroke-width="0.12">CUG</text>
<text transform="translate(122.06,291.9) rotate(-90)" font-size="7.3" fill="#262626" stroke="#262626" stroke-width="0.12">AUU</text>
<text transform="translate(131.57,291.9) rotate(-90)" font-size="7.3" fill="#262626" stroke="#262626" stroke-width="0.12">AUC</text>
<text transform="translate(141.08,291.9) rotate(-90)" font-size="7.3" fill="#262626" stroke="#262626" stroke-width="0.12">AUA</text>
<text transform="translate(150.59,291.9) rotate(-90)" font-size="7.3" fill="#262626" stroke="#262626" stroke-width="0.12">AUG</text>
<text transform="translate(160.10,291.9) rotate(-90)" font-size="7.3" fill="#262626" stroke="#262626" stroke-width="0.12">GUU</text>
<text transform="translate(169.60,291.9) rotate(-90)" font-size="7.3" fill="#262626" stroke="#262626" stroke-width="0.12">GUC</text>
<text transform="translate(179.11,291.9) rotate(-90)" font-size="7.3" fill="#262626" stroke="#262626" stroke-width="0.12">GUA</text>
<text transform="translate(188.62,291.9) rotate(-90)" font-size="7.3" fill="#262626" stroke="#262626" stroke-width="0.12">GUG</text>
<text transform="translate(198.13,291.9) rotate(-90)" font-size="7.3" fill="#262626" stroke="#262626" stroke-width="0.12">UCU</text>
<text transform="translate(207.64,291.9) rotate(-90)" font-size="7.3" fill="#262626" stroke="#262626" stroke-width="0.12">UCC</text>
<text transform="translate(217.14,291.9) rotate(-90)" font-size="7.3" fill="#262626" stroke="#262626" stroke-width="0.12">UCA</text>
<text transform="translate(226.65,291.9) rotate(-90)" font-size="7.3" fill="#262626" stroke="#262626" stroke-width="0.12">UCG</text>
<text transform="translate(236.16,291.9) rotate(-90)" font-size="7.3" fill="#262626" stroke="#262626" stroke-width="0.12">CCU</text>
<text transform="translate(245.67,291.9) rotate(-90)" font-size="7.3" fill="#262626" stroke="#262626" stroke-width="0.12">CCC</text>
<text transform="translate(255.18,291.9) rotate(-90)" font-size="7.3" fill="#262626" stroke="#262626" stroke-width="0.12">CCA</text>
<text transform="translate(264.68,291.9) rotate(-90)" font-size="7.3" fill="#262626" stroke="#262626" stroke-width="0.12">CCG</text>
<text transform="translate(274.19,291.9) rotate(-90)" font-size="7.3" fill="#262626" stroke="#262626" stroke-width="0.12">ACU</text>
<text transform="translate(283.70,291.9) rotate(-90)" font-size="7.3" fill="#262626" stroke="#262626" stroke-width="0.12">ACC</text>
<text transform="translate(293.21,291.9) rotate(-90)" font-size="7.3" fill="#262626" stroke="#262626" stroke-width="0.12">ACA</text>
<text transform="translate(302.72,291.9) rotate(-90)" font-size="7.3" fill="#262626" stroke="#262626" stroke-width="0.12">ACG</text>
<text transform="translate(312.22,291.9) rotate(-90)" font-size="7.3" fill="#262626" stroke="#262626" stroke-width="0.12">GCU</text>
<text transform="translate(321.73,291.9) rotate(-90)" font-size="7.3" fill="#262626" stroke="#262626" stroke-width="0.12">GCC</text>
<text transform="translate(331.24,291.9) rotate(-90)" font-size="7.3" fill="#262626" stroke="#262626" stroke-width="0.12">GCA</text>
<text transform="translate(340.75,291.9) rotate(-90)" font-size="7.3" fill="#262626" stroke="#262626" stroke-width="0.12">GCG</text>
<text transform="translate(350.26,291.9) rotate(-90)" font-size="7.3" fill="#262626" stroke="#262626" stroke-width="0.12">UAU</text>
<text transform="translate(359.76,291.9) rotate(-90)" font-size="7.3" fill="#262626" stroke="#262626" stroke-width="0.12">UAC</text>
<text transform="translate(369.27,291.9) rotate(-90)" font-size="7.3" fill="#262626" stroke="#262626" stroke-width="0.12">CAU</text>
<text transform="translate(378.78,291.9) rotate(-90)" font-size="7.3" fill="#262626" stroke="#262626" stroke-width="0.12">CAC</text>
<text transform="translate(388.29,291.9) rotate(-90)" font-size="7.3" fill="#262626" stroke="#262626" stroke-width="0.12">CAA</text>
<text transform="translate(397.80,291.9) rotate(-90)" font-size="7.3" fill="#262626" stroke="#262626" stroke-width="0.12">CAG</text>
<text transform="translate(407.30,291.9) rotate(-90)" font-size="7.3" fill="#262626" stroke="#262626" stroke-width="0.12">AAU</text>
<text transform="translate(416.81,291.9) rotate(-90)" font-size="7.3" fill="#262626" stroke="#262626" stroke-width="0.12">AAC</text>
<text transform="translate(426.32,291.9) rotate(-90)" font-size="7.3" fill="#262626" stroke="#262626" stroke-width="0.12">AAA</text>
<text transform="translate(435.83,291.9) rotate(-90)" font-size="7.3" fill="#262626" stroke="#262626" stroke-width="0.12">AAG</text>
<text transform="translate(445.34,291.9) rotate(-90)" font-size="7.3" fill="#262626" stroke="#262626" stroke-width="0.12">GAU</text>
<text transform="translate(454.84,291.9) rotate(-90)" font-size="7.3" fill="#262626" stroke="#262626" stroke-width="0.12">GAC</text>
<text transform="translate(464.35,291.9) rotate(-90)" font-size="7.3" fill="#262626" stroke="#262626" stroke-width="0.12">GAA</text>
<text transform="translate(473.86,291.9) rotate(-90)" font-size="7.3" fill="#262626" stroke="#262626" stroke-width="0.12">GAG</text>
<text transform="translate(483.37,291.9) rotate(-90)" font-size="7.3" fill="#262626" stroke="#262626" stroke-width="0.12">UGU</text>
<text transform="translate(492.88,291.9) rotate(-90)" font-size="7.3" fill="#262626" stroke="#262626" stroke-width="0.12">UGC</text>
<text transform="translate(502.38,291.9) rotate(-90)" font-size="7.3" fill="#262626" stroke="#262626" stroke-width="0.12">UGG</text>
<text transform="translate(511.89,291.9) rotate(-90)" font-size="7.3" fill="#262626" stroke="#262626" stroke-width="0.12">CGU</text>
<text transform="translate(521.40,291.9) rotate(-90)" font-size="7.3" fill="#262626" stroke="#262626" stroke-width="0.12">CGC</text>
<text transform="translate(530.91,291.9) rotate(-90)" font-size="7.3" fill="#262626" stroke="#262626" stroke-width="0.12">CGA</text>
<text transform="translate(540.42,291.9) rotate(-90)" font-size="7.3" fill="#262626" stroke="#262626" stroke-width="0.12">CGG</text>
<text transform="translate(549.92,291.9) rotate(-90)" font-size="7.3" fill="#262626" stroke="#262626" stroke-width="0.12">AGU</text>
<text transform="translate(559.43,291.9) rotate(-90)" font-size="7.3" fill="#262626" stroke="#262626" stroke-width="0.12">AGC</text>
<text transform="translate(568.94,291.9) rotate(-90)" font-size="7.3" fill="#262626" stroke="#262626" stroke-width="0.12">AGA</text>
<text transform="translate(578.45,291.9) rotate(-90)" font-size="7.3" fill="#262626" stroke="#262626" stroke-width="0.12">AGG</text>
<text transform="translate(587.96,291.9) rotate(-90)" font-size="7.3" fill="#262626" stroke="#262626" stroke-width="0.12">GGU</text>
<text transform="translate(597.46,291.9) rotate(-90)" font-size="7.3" fill="#262626" stroke="#262626" stroke-width="0.12">GGC</text>
<text transform="translate(606.97,291.9) rotate(-90)" font-size="7.3" fill="#262626" stroke="#262626" stroke-width="0.12">GGA</text>
<text transform="translate(616.48,291.9) rotate(-90)" font-size="7.3" fill="#262626" stroke="#262626" stroke-width="0.12">GGG</text>
<text transform="translate(625.99,291.9) rotate(-90)" font-size="7.3" fill="#262626" stroke="#262626" stroke-width="0.12">UAA</text>
<text transform="translate(635.50,291.9) rotate(-90)" font-size="7.3" fill="#262626" stroke="#262626" stroke-width="0.12">UAG</text>
<text transform="translate(645.00,291.9) rotate(-90)" font-size="7.3" fill="#262626" stroke="#262626" stroke-width="0.12">UGA</text>
</svg></body></html>
